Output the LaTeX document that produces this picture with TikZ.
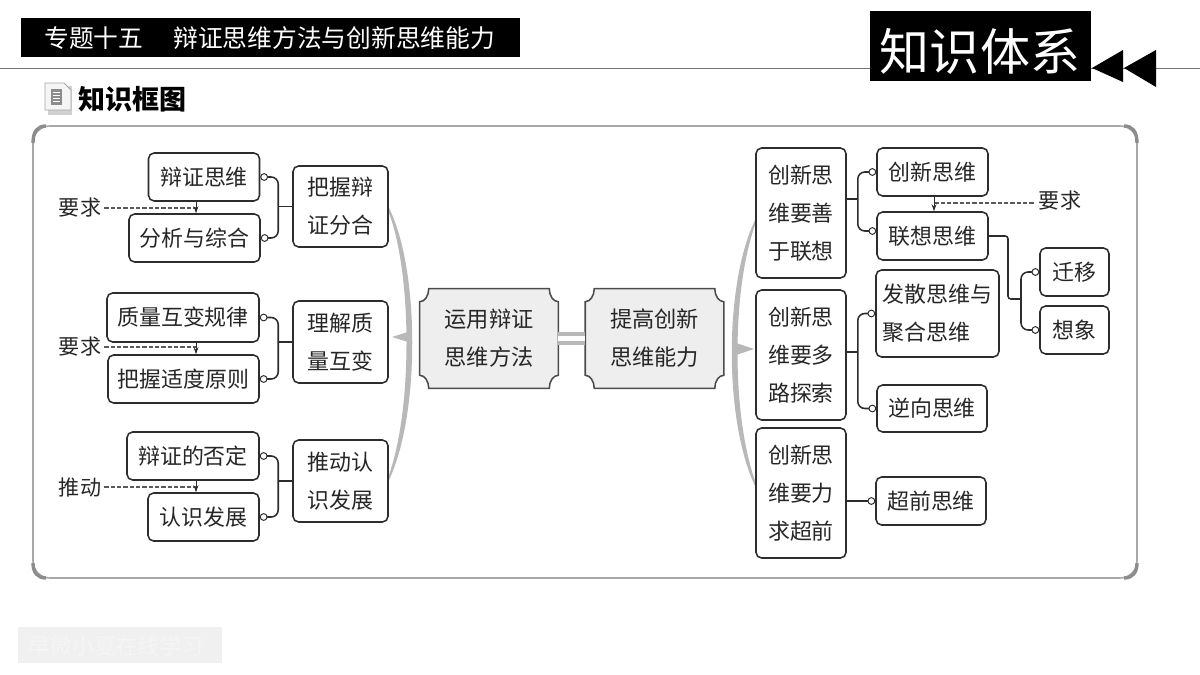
\documentclass[tikz,border=0pt]{standalone}
\usepackage{fontspec}
\setmainfont{Noto Sans CJK SC}
\usetikzlibrary{arrows.meta}
\usetikzlibrary{calc,backgrounds}
\definecolor{rahmen}{RGB}{168,168,168}
\definecolor{rahmendunkel}{RGB}{140,140,140}
\definecolor{kante}{RGB}{45,45,45}
\definecolor{bogen}{RGB}{184,184,184}
\definecolor{kern}{RGB}{238,238,238}
\tikzset{
    wissen/.style={draw=kante, line width=1.1pt, rounded corners=4pt, inner sep=0pt, align=center,
        text=black!85, font=\fontsize{15.6}{27.2}\selectfont},
    kernbox/.style={inner sep=0pt, align=center, text=black!85, minimum width=138*0.025cm,
        minimum height=99*0.025cm, font=\fontsize{15.8}{27}\selectfont},
    notiz/.style={text=black!85, inner sep=0pt, font=\fontsize{15}{18}\selectfont},
    ast/.style={kante, line width=1.1pt, rounded corners=5pt, -{Circle[open,length=5.5pt,width=5.5pt,line width=0.7pt]}},
    stiel/.style={kante, line width=1.1pt},
    hinweis/.style={black!65, line width=0.8pt, dash pattern=on 3pt off 1.5pt},
    hinweispfeil/.style={kante, line width=0.7pt, -{Stealth[length=5pt,width=3.5pt]}},
}

\begin{document}
\begin{tikzpicture}[x=0.025cm, y=-0.025cm]

    \useasboundingbox (0,0) rectangle (1200,675);

    % Kopfzeile
    \draw[black!55, line width=1.1pt] (0,68.5) -- (1200,68.5);
    \fill[black] (21,18) rectangle (520,57);
    \node[text=white, inner sep=0pt, anchor=west, font=\fontsize{17.6}{20}\selectfont] (thema) at (44,38) {专题十五};
    \node[text=white, inner sep=0pt, anchor=west, font=\fontsize{17.6}{20}\selectfont] (titel) at (173,38) {辩证思维方法与创新思维能力};
    \fill[black] (870,11) rectangle (1091,81);
    \node[text=white, inner sep=0pt, font=\fontsize{35.6}{40}\selectfont] (system) at (980,51) {知识体系};
    \fill[black] (1092,68) -- (1123,50) -- (1123,82) -- cycle;
    \fill[black] (1124,68) -- (1156,50) -- (1156,87) -- cycle;

    % Symbol und Ueberschrift
    \fill[black!18] (48,86) rectangle (72,115);
    \draw[black!35, fill=black!4, line width=0.6pt] (45,83) -- (64,83) -- (71,90) -- (71,110) -- (45,110) -- cycle;
    \fill[black!45] (51,89) rectangle (62,105);
    \foreach \y in {92,95,98,101}
        \draw[white, line width=0.5pt] (53,\y) -- (60,\y);
    \node[inner sep=0pt, anchor=west, font=\fontsize{19.2}{22}\selectfont\bfseries] (kopf) at (78,99) {知识框图};

    % Rahmen
    \draw[rahmen, line width=1.1pt, rounded corners=12pt] (33,126) rectangle (1137,578);
    \draw[rahmendunkel, line width=2.4pt] (33,143) .. controls (33,131) and (38,126) .. (46,126);
    \draw[rahmendunkel, line width=2.4pt] (1124,126) .. controls (1132,126) and (1137,131) .. (1137,143);
    \draw[rahmendunkel, line width=2.4pt] (33,563) .. controls (33,573) and (38,578) .. (46,578);
    \draw[rahmendunkel, line width=2.4pt] (1124,578) .. controls (1132,578) and (1137,573) .. (1137,563);

    % grosse Boegen
    \fill[bogen] (389,208) .. controls (420,270) and (420,415) .. (389,480) -- (387,480) .. controls (413,415) and (413,270) .. (387,208) -- cycle;
    \fill[bogen] (392,337) -- (411,331) -- (411,343) -- cycle;
    \fill[bogen] (755,220) .. controls (724,285) and (724,420) .. (755,486) -- (757,486) .. controls (731,420) and (731,285) .. (757,220) -- cycle;
    \fill[bogen] (754,349) -- (736,343) -- (736,355) -- cycle;

    % Wissensknoten
    \foreach \name/\x/\y/\w/\h/\txt in {
            bz/204/177/111/48/辩证思维,
            fx/194.5/238/131/48/分析与综合,
            zl/340.5/206.5/95/81/把握辩\\证分合,
            zg/183/317.5/152/49/质量互变规律,
            bd/183.5/379/151/48/把握适度原则,
            lz/340.5/342/95/82/理解质\\量互变,
            bf/193/456/132/48/辩证的否定,
            rs/203.5/517/111/48/认识发展,
            tr/340.5/481/95/82/推动认\\识发展,
            ra/801/213/90/130/创新思\\维要善\\于联想,
            rb/801/355/90/130/创新思\\维要多\\路探索,
            rc/801/493/90/130/创新思\\维要力\\求超前,
            cx/932.5/172/111/48/创新思维,
            lx/932.5/236/111/48/联想思维,
            qy/1074.5/272/69/48/迁移,
            xx/1074.5/330/69/48/想象,
            nx/932/408.5/110/47/逆向思维,
            cq/931/501/110/48/超前思维}{
            \node[wissen, minimum width=\w*0.025cm, minimum height=\h*0.025cm] (\name) at (\x,\y) {\txt};
        }
    \node[wissen, align=left, minimum width=123*0.025cm, minimum height=87*0.025cm] (fs) at (937.5,313.5) {发散思维与\\聚合思维};

    % Kernknoten
    \node[kernbox] (kl) at (489,338.5) {运用辩证\\思维方法};
    \node[kernbox] (kr) at (654.5,338.5) {提高创新\\思维能力};
    \begin{pgfonlayer}{background}
        \foreach \n in {kl,kr}{
                \draw[kante!85, line width=1.1pt, fill=kern]
                ($(\n.north west)+(9,0)$) -- ($(\n.north east)+(-9,0)$)
                .. controls +(0,7) and +(-5,0) .. ($(\n.north east)+(0,13)$)
                -- ($(\n.south east)+(0,-13)$)
                .. controls +(-5,0) and +(0,-7) .. ($(\n.south east)+(-9,0)$)
                -- ($(\n.south west)+(9,0)$)
                .. controls +(0,-7) and +(5,0) .. ($(\n.south west)+(0,-13)$)
                -- ($(\n.north west)+(0,13)$)
                .. controls +(5,0) and +(0,7) .. ($(\n.north west)+(9,0)$) -- cycle;
            }
    \end{pgfonlayer}
    \draw[bogen, line width=2.6pt, double=white, double distance=3.6pt] (kl.east) -- (kr.west);

    % Verzweigungen links
    \foreach \wurzel/\a/\b in {zl/bz/fx, lz/zg/bd, tr/bf/rs}{
            \draw[stiel] (\wurzel.west) -- ++(-14,0) coordinate (\wurzel-j);
            \draw[ast] (\wurzel-j) |- (\a.east);
            \draw[ast] (\wurzel-j) |- (\b.east);
        }

    % Verzweigungen rechts
    \coordinate (ra-a) at ($(ra.east)+(0,-14)$);
    \coordinate (rb-a) at ($(rb.east)+(0,-3)$);
    \coordinate (lx-b) at ($(lx.west)+(0,-5)$);
    \draw[stiel] (ra-a) -- ++(11,0) coordinate (ra-j);
    \draw[ast] (ra-j) |- (cx.west);
    \draw[ast] (ra-j) |- (lx-b);
    \draw[stiel] (rb-a) -- ++(11,0) coordinate (rb-j);
    \draw[ast] (rb-j) |- (fs.west);
    \draw[ast] (rb-j) |- (nx.west);
    \draw[ast] (cq.west -| rc.east) -- (cq.west);
    \coordinate (lx-j) at (1021,299);
    \draw[stiel, rounded corners=2pt] (lx.east) -| (1008,299) -- (lx-j);
    \draw[ast] (lx-j) |- (qy.west);
    \draw[ast] (lx-j) |- (xx.west);

    % Hinweise
    \foreach \name/\y/\txt/\a/\b in {ha/208/要求/bz/fx, hb/347/要求/zg/bd, hc/487/推动/bf/rs}{
            \node[notiz] (\name) at (80,\y) {\txt};
            \coordinate (\name-z) at (196,\y);
            \draw[hinweis] (\name.east) ++(3,0) -- (\name-z);
            \draw[hinweispfeil] (\name-z |- \a.south) -- (\name-z |- \b.north);
        }
    \node[notiz] (hd) at (1060,201) {要求};
    \coordinate (hd-z) at (934,203);
    \draw[hinweis] (hd.west |- hd-z) ++(-5,0) -- (hd-z);
    \draw[hinweispfeil] (hd-z |- cx.south) -- (hd-z |- lx.north);

    % Wasserzeichen
    \fill[black!6] (18,627) rectangle (222,663);
    \node[text=white!96!black, inner sep=0pt, font=\fontsize{15.6}{18}\selectfont] (marke) at (116,646) {早微小夏在线学习};

\end{tikzpicture}
\end{document}
